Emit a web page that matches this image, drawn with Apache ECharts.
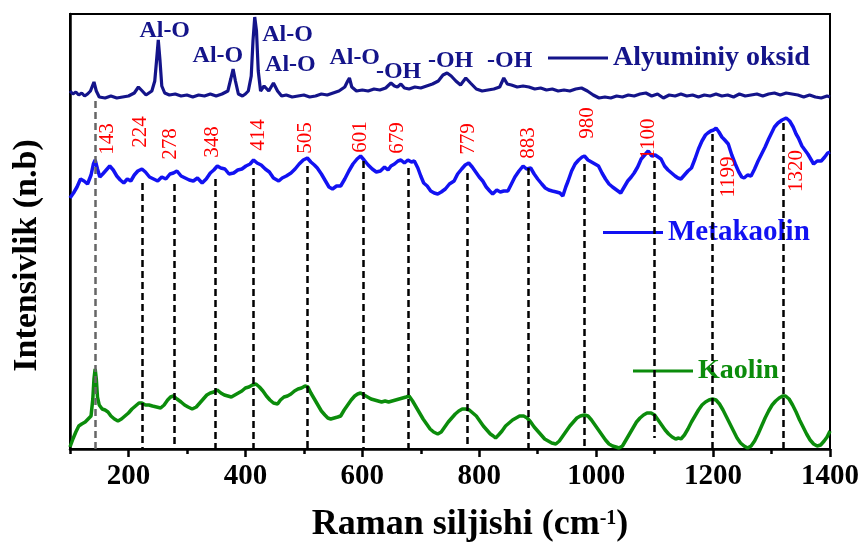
<!DOCTYPE html>
<html><head><meta charset="utf-8">
<script src="https://cdn.jsdelivr.net/npm/echarts@6/dist/echarts.min.js"></script>
<style>html,body{margin:0;padding:0;background:#fff}#c{width:864px;height:549px}</style>
</head><body><div id="c"></div>
<script>
// ---- data (Raman shift in cm-1, intensity in arbitrary offset units) ----
const aluX = [
100,105,110,115,120,125,130,135,141,145,
150,160,170,180,190,200,210,217,222,230,
240,245,248,251,254,257,262,270,280,290,
300,310,320,330,340,350,360,370,375,379,
383,388,395,400,405,410,413,416,419,422,
426,432,440,448,455,462,470,480,490,500,
510,520,530,540,550,560,570,575,578,582,
590,600,610,620,630,640,649,655,660,666,
672,680,690,700,710,720,730,738,745,752,
760,768,777,785,795,805,815,825,835,842,
848,855,865,875,885,895,905,915,925,935,
945,955,965,975,985,995,1005,1015,1025,1035,
1045,1055,1065,1075,1085,1095,1105,1115,1125,1135,
1145,1155,1165,1175,1185,1195,1205,1215,1225,1235,
1245,1255,1265,1275,1285,1295,1305,1315,1325,1335,
1345,1355,1365,1375,1385,1395,1400];
const aluY = [
358,355,357,354,356,353,355,358,367,358,
352,351,353,351,352,353,356,362,359,354,
358,368,388,409,388,363,356,354,355,353,
354,352,354,353,355,353,355,358,370,380,
368,355,353,355,358,373,408,432,418,378,
358,363,358,366,358,353,354,352,353,354,
352,353,355,354,356,358,362,368,371,362,
358,359,358,360,359,361,366,363,362,365,
361,360,362,361,363,365,368,374,376,373,
368,364,371,366,360,358,359,360,362,371,
365,364,362,363,362,360,361,359,360,358,
359,358,360,361,358,354,351,352,351,353,
352,354,353,355,356,353,355,351,354,353,
355,353,354,352,354,353,355,353,354,352,
355,353,354,355,353,355,356,354,356,355,
354,352,354,352,351,353,352];

const metaX = [
100,106,112,118,124,130,136,140,143,147,
151,156,162,168,174,180,186,192,198,204,
210,216,223,229,236,243,250,257,264,271,
277,283,290,297,304,311,318,326,333,340,
346,352,358,365,372,380,387,394,401,408,
414,420,427,434,441,448,457,463,470,478,
485,492,499,506,512,518,523,530,537,543,
549,556,563,570,577,584,591,597,603,610,
617,624,631,638,644,649,655,661,666,672,
678,684,689,695,700,705,711,717,723,729,
735,742,749,757,763,770,776,782,788,794,
800,806,812,818,823,830,836,842,849,855,
861,868,875,881,888,894,900,907,913,919,
925,932,938,943,948,952,958,964,970,976,
980,986,992,998,1004,1010,1016,1022,1028,1035,
1042,1048,1054,1060,1065,1071,1077,1083,1089,1095,
1101,1106,1111,1117,1123,1129,1135,1140,1145,1151,
1157,1163,1169,1175,1181,1187,1191,1196,1201,1205,
1210,1215,1220,1226,1232,1238,1244,1249,1253,1259,
1265,1271,1277,1283,1289,1295,1300,1305,1311,1318,
1325,1331,1337,1342,1346,1352,1357,1362,1367,1372,
1378,1385,1391,1396,1400];
const metaY = [
251,256,262,270,268,265,274,285,289,280,
272,275,279,283,279,273,269,266,270,268,
274,278,280,277,272,270,268,272,270,275,
276,278,273,271,269,268,271,266,270,276,
279,283,281,280,275,276,279,280,283,285,
289,286,284,280,277,271,268,271,273,276,
280,285,289,291,287,284,281,275,268,262,
260,263,263,270,278,285,290,293,289,284,
280,277,278,282,279,283,285,288,289,286,
289,287,288,281,273,266,263,258,256,255,
257,260,265,268,275,280,284,286,282,277,
272,268,262,258,255,259,257,258,258,265,
272,278,283,280,281,275,270,265,261,259,
258,257,256,253,262,268,278,285,289,292,
293,289,287,285,283,276,270,265,262,259,
256,262,268,272,276,282,290,294,298,293,
294,292,290,283,279,276,273,271,270,274,
278,281,290,300,308,314,316,318,319,321,
317,312,309,305,294,285,277,272,271,274,
273,280,288,295,302,310,316,322,326,329,
331,328,322,315,311,303,299,295,290,285,
288,288,292,296,297];

const kaoX = [
100,105,110,115,120,126,131,136,139,141,
143,145,147,150,155,160,165,170,176,182,
188,194,200,206,212,218,223,229,235,241,
248,255,261,267,272,277,283,290,296,302,
309,316,322,328,334,340,346,352,358,364,
370,376,382,388,394,400,406,412,418,424,
430,436,442,448,455,460,466,472,478,484,
490,496,502,507,512,518,524,530,536,541,
546,552,558,563,569,575,581,587,592,597,
603,609,615,621,627,633,639,645,651,657,
663,669,675,680,686,692,698,704,710,716,
722,729,735,741,747,753,759,765,771,777,
783,789,795,801,807,813,819,824,828,833,
839,845,851,857,863,869,876,882,888,894,
900,906,912,918,924,931,937,943,949,955,
961,967,973,980,986,992,998,1004,1010,1016,
1022,1028,1034,1039,1045,1051,1057,1063,1069,1075,
1081,1087,1094,1100,1106,1112,1118,1124,1130,1136,
1141,1145,1151,1157,1163,1169,1175,1181,1187,1193,
1199,1205,1211,1217,1223,1229,1235,1241,1247,1253,
1259,1265,1271,1277,1283,1289,1295,1301,1307,1313,
1319,1324,1330,1336,1342,1348,1354,1360,1366,1372,
1378,1384,1390,1395,1400];
const kaoY = [
2,10,17,23,25,27,30,33,50,70,
80,70,52,44,40,39,37,33,30,28,
30,33,36,40,43,46,46,44,44,43,
42,41,44,49,52,53,50,47,44,42,
40,42,46,50,54,56,57,59,56,54,
53,52,54,56,58,61,62,64,65,62,
58,53,49,46,45,49,52,53,55,58,
60,61,63,62,56,50,44,38,34,31,
30,31,32,33,39,44,49,53,55,56,
54,52,50,49,48,47,48,47,48,49,
50,51,52,53,48,42,36,30,25,20,
17,15,17,22,27,31,35,38,40,40,
39,36,33,28,23,19,15,13,11,14,
18,23,26,29,31,33,33,31,27,22,
18,14,10,8,6,5,8,13,18,23,
27,31,33,34,33,29,24,19,14,9,
5,3,2,1,3,9,15,21,27,31,
34,36,36,34,29,24,19,15,12,10,
11,10,14,20,27,33,39,44,47,49,
50,49,45,39,32,25,18,11,6,3,
1,3,8,15,23,31,38,44,48,51,
53,53,50,44,37,29,22,15,9,5,
3,4,8,12,18];

// peak markers
const peakPos    = [143,224,278,348,414,505,601,679,779,883,980,1100,1199,1320];
const peakTop    = [348,266,265,270,281,283,288,281,276,281,285,288,315,326];
const peakBottom = [0,0,0,0,0,0,0,0,0,0,0,11,0,0];
const peakLabels = ['143','224','278','348','414','505','601','679','779','883','980','1100','1199','1320'];
const peakLabelX = [164,221,272,344,422,503,597,661,782,885,986,1090,1227,1342];
const peakLabelY = [310,317,305,307,314,311,312,311,310,306,326,310,272,278];

// band assignments above the alumina trace
const bondLabels = ['Al-O','Al-O','Al-O','Al-O','Al-O','-OH','-OH','-OH'];
const bondX = [262,353,472,477,587,662,751,852];
const bondY = [418,393,414,384,391,377,388,388];

// axis ticks
const majorTicks = [200,400,600,800,1000,1200,1400];
const minorTicks = [100,300,500,700,900,1100,1300];

const seriesNames = ['Alyuminiy oksid','Metakaolin','Kaolin'];

// ---- chart ----
const FONT = "'Liberation Serif','Times New Roman',serif";
const C_ALU = '#14148a', C_META = '#1212f2', C_KAO = '#0b8c0b';
const zip = (xs, ys) => xs.map((x, i) => [x, ys[i]]);

const chart = echarts.init(document.getElementById('c'), null, {renderer: 'canvas'});

const markLines = peakPos.map((x, i) => [
  {coord: [x, peakTop[i]], lineStyle: {color: i === 0 ? '#666' : '#000'}},
  {coord: [x, peakBottom[i]]}
]);

const legendBase = {
  orient: 'horizontal', padding: 0, itemWidth: 60, itemHeight: 3, icon: 'rect',
  selectedMode: false
};

const textLabel = (extra) => Object.assign({
  show: true, position: 'inside', fontFamily: FONT,
  textBorderWidth: 0, textBorderColor: 'transparent', opacity: 1
}, extra);

chart.setOption({
  animation: false,
  backgroundColor: '#fff',
  grid: {left: 70, right: 34, top: 14, bottom: 100, show: true,
         borderColor: '#000', borderWidth: 2, backgroundColor: 'transparent'},
  legend: [
    Object.assign({}, legendBase, {data: [seriesNames[0]], left: 548, top: 44,
      itemStyle: {color: C_ALU},
      textStyle: {fontFamily: FONT, fontWeight: 'bold', fontSize: 28, color: C_ALU}}),
    Object.assign({}, legendBase, {data: [seriesNames[1]], left: 603, top: 218,
      itemStyle: {color: C_META},
      textStyle: {fontFamily: FONT, fontWeight: 'bold', fontSize: 29, color: C_META}}),
    Object.assign({}, legendBase, {data: [seriesNames[2]], left: 633, top: 357,
      itemStyle: {color: C_KAO},
      textStyle: {fontFamily: FONT, fontWeight: 'bold', fontSize: 28, color: C_KAO}})
  ],
  xAxis: [{
    type: 'value', min: 100, max: 1400, position: 'bottom',
    axisLine: {onZero: false, lineStyle: {color: '#000', width: 2.5}},
    axisTick: {customValues: majorTicks, length: 8, lineStyle: {color: '#000', width: 2.5}},
    axisLabel: {customValues: majorTicks, margin: 13, color: '#000',
      formatter: v => String(v),
      fontFamily: FONT, fontWeight: 'bold', fontSize: 29},
    splitLine: {show: false},
    name: 'Raman siljishi (cm{sup|-1})', nameLocation: 'middle', nameGap: 58,
    nameTextStyle: {fontFamily: FONT, fontWeight: 'bold', fontSize: 36, color: '#000',
      padding: [0, 0, 0, 40],
      rich: {sup: {fontFamily: FONT, fontWeight: 'bold', fontSize: 20, color: '#000',
                   verticalAlign: 'bottom', padding: [0, 0, 14, 0]}}}
  }, {
    type: 'value', min: 100, max: 1400, position: 'bottom', offset: 0,
    axisLine: {show: false},
    axisTick: {customValues: minorTicks, length: 5, lineStyle: {color: '#000', width: 2.5}},
    axisLabel: {show: false},
    splitLine: {show: false}
  }],
  yAxis: {
    type: 'value', min: 0, max: 435,
    axisLine: {show: true, lineStyle: {color: '#000', width: 2.5}},
    axisTick: {show: false}, axisLabel: {show: false}, splitLine: {show: false},
    name: 'Intensivlik (n.b)', nameLocation: 'middle', nameGap: 26,
    nameTextStyle: {fontFamily: FONT, fontWeight: 'bold', fontSize: 34, color: '#000',
      padding: [0, 48, 0, 0]}
  },
  series: [
    {name: seriesNames[0], type: 'line', data: zip(aluX, aluY), symbol: 'none',
     lineStyle: {color: C_ALU, width: 3.2}, itemStyle: {color: C_ALU}, z: 3},
    {name: seriesNames[1], type: 'line', data: zip(metaX, metaY), symbol: 'none',
     lineStyle: {color: C_META, width: 3.5}, itemStyle: {color: C_META}, z: 3,
     markLine: {silent: true, symbol: ['none', 'none'], label: {show: false},
       lineStyle: {type: [7, 4], width: 2.5, color: '#000'}, data: markLines}},
    {name: seriesNames[2], type: 'line', data: zip(kaoX, kaoY), symbol: 'none',
     lineStyle: {color: C_KAO, width: 3.5}, itemStyle: {color: C_KAO}, z: 3},
    {name: 'peakLabels', type: 'scatter', silent: true, z: 6,
     data: zip(peakLabelX, peakLabelY), symbolSize: 1,
     itemStyle: {color: '#ffffff', opacity: 0},
     emphasis: {disabled: true},
     label: textLabel({rotate: 90, formatter: p => peakLabels[p.dataIndex],
       color: '#ff0000', fontSize: 21})},
    {name: 'bondLabels', type: 'scatter', silent: true, z: 6,
     data: zip(bondX, bondY), symbolSize: 1,
     itemStyle: {color: '#ffffff', opacity: 0},
     emphasis: {disabled: true},
     label: textLabel({formatter: p => bondLabels[p.dataIndex],
       color: C_ALU, fontWeight: 'bold', fontSize: 24})}
  ]
});
</script>
</body></html>
